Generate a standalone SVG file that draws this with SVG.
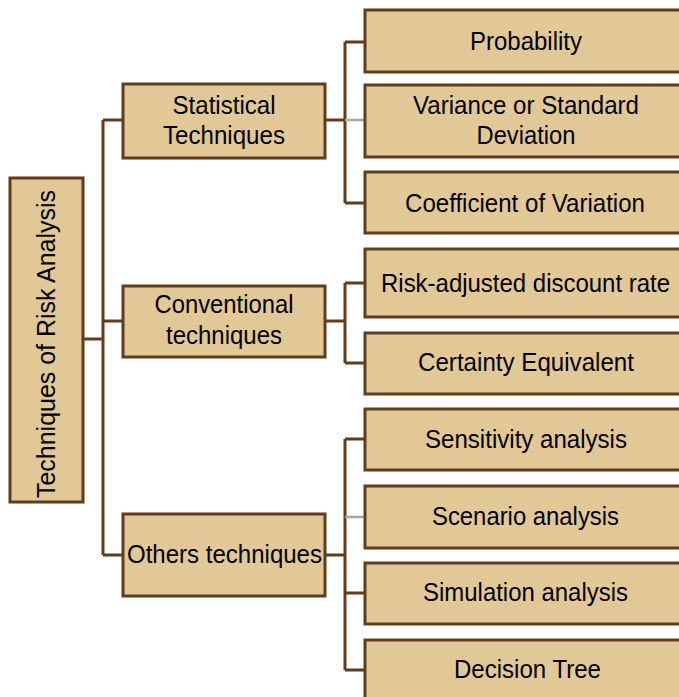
<svg xmlns="http://www.w3.org/2000/svg" width="679" height="697" viewBox="0 0 679 697">
<style>
.box{fill:#e2c896;stroke:#623d1c;stroke-width:3}
.ln{fill:none;stroke:#623d1c;stroke-width:3}
.gr{fill:none;stroke:#a6a6a6;stroke-width:2.5}
text{font-family:"Liberation Sans",Arial,sans-serif;font-size:26px;fill:#000;text-anchor:middle}
</style>
<rect width="679" height="697" fill="#fff"/>
<g id="connectors">
<path class="ln" d="M83,339H103M103,120V555M103,120H123M103,321H123M103,555H123"/>
<path class="ln" d="M325,120H345M345,42V203M345,42H365M345,203H365"/>
<path class="gr" d="M345,120H365"/>
<path class="ln" d="M325,321H345M345,283V363M345,283H365M345,363H365"/>
<path class="ln" d="M325,555H345M345,439V670M345,439H365M345,593H365M345,670H365"/>
<path class="gr" d="M345,517H365"/>
</g>
<g id="root"><rect class="box" x="10" y="178" width="73" height="324"/><text transform="translate(55,344) rotate(-90)" textLength="308" lengthAdjust="spacingAndGlyphs">Techniques of Risk Analysis</text></g>
<g id="statistical"><rect class="box" x="123" y="84" width="202" height="74"/><text x="224" y="114" textLength="103" lengthAdjust="spacingAndGlyphs">Statistical</text><text x="224" y="144" textLength="122" lengthAdjust="spacingAndGlyphs">Techniques</text></g>
<g id="conventional"><rect class="box" x="123" y="286" width="202" height="71"/><text x="224" y="313" textLength="139" lengthAdjust="spacingAndGlyphs">Conventional</text><text x="224" y="344" textLength="116" lengthAdjust="spacingAndGlyphs">techniques</text></g>
<g id="others"><rect class="box" x="123" y="514" width="202" height="82"/><text x="224.5" y="563" textLength="195" lengthAdjust="spacingAndGlyphs">Others techniques</text></g>
<g id="probability"><rect class="box" x="365" y="10" width="330" height="62"/><text x="526" y="50" textLength="112" lengthAdjust="spacingAndGlyphs">Probability</text></g>
<g id="variance"><rect class="box" x="365" y="85" width="330" height="72"/><text x="526" y="114" textLength="226" lengthAdjust="spacingAndGlyphs">Variance or Standard</text><text x="526" y="144" textLength="99" lengthAdjust="spacingAndGlyphs">Deviation</text></g>
<g id="coefficient"><rect class="box" x="365" y="172" width="330" height="61"/><text x="525" y="212" textLength="240" lengthAdjust="spacingAndGlyphs">Coefficient of Variation</text></g>
<g id="risk-adjusted"><rect class="box" x="365" y="249" width="330" height="68"/><text x="525.5" y="292" textLength="289" lengthAdjust="spacingAndGlyphs">Risk-adjusted discount rate</text></g>
<g id="certainty"><rect class="box" x="365" y="333" width="330" height="61"/><text x="526" y="371" textLength="216" lengthAdjust="spacingAndGlyphs">Certainty Equivalent</text></g>
<g id="sensitivity"><rect class="box" x="365" y="409" width="330" height="61"/><text x="526" y="448" textLength="202" lengthAdjust="spacingAndGlyphs">Sensitivity analysis</text></g>
<g id="scenario"><rect class="box" x="365" y="486" width="330" height="62"/><text x="525.5" y="525" textLength="187" lengthAdjust="spacingAndGlyphs">Scenario analysis</text></g>
<g id="simulation"><rect class="box" x="365" y="563" width="330" height="61"/><text x="525.5" y="601" textLength="205" lengthAdjust="spacingAndGlyphs">Simulation analysis</text></g>
<g id="decision"><rect class="box" x="365" y="640" width="330" height="70"/><text x="527.5" y="678" textLength="147" lengthAdjust="spacingAndGlyphs">Decision Tree</text></g>
</svg>
